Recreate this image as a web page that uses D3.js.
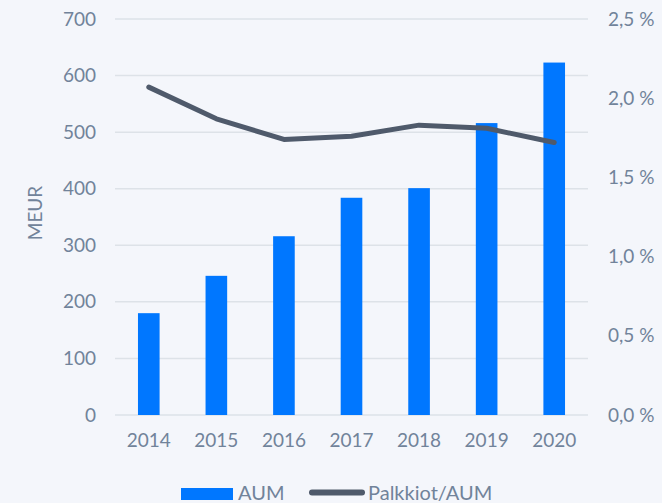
<!DOCTYPE html>
<html>
<head>
<meta charset="utf-8">
<script src="https://cdn.jsdelivr.net/npm/d3@7"></script>
<style>
  html, body { margin: 0; padding: 0; background: #f4f6fb; }
  svg { display: block; }
  text { font-family: Lato, "Open Sans", sans-serif; font-weight: 400; fill: #71839a; }
</style>
</head>
<body>
<svg id="chart" width="662" height="503"></svg>
<script>
// Assets under management (MEUR) and fee ratio (%) by year
const years = ["2014", "2015", "2016", "2017", "2018", "2019", "2020"];
const aum = [180, 246, 316, 384, 401, 516, 623];
const feeRatio = [2.07, 1.87, 1.74, 1.76, 1.83, 1.81, 1.72];
const leftTicks = [0, 100, 200, 300, 400, 500, 600, 700];
const rightTicks = [0, 0.5, 1.0, 1.5, 2.0, 2.5];
const legendLabels = ["AUM", "Palkkiot/AUM"];

const svg = d3.select("#chart");
const plotLeft = 115, plotRight = 588, plotTop = 19, plotBottom = 415;

const x = d3.scaleBand().domain(years).range([plotLeft, plotRight])
  .paddingInner(0.68).paddingOuter(0.34);
const yL = d3.scaleLinear().domain([0, 700]).range([plotBottom, plotTop]);
const yR = d3.scaleLinear().domain([0, 2.5]).range([plotBottom, plotTop]);

const barColor = "#0077ff";
const lineColor = "#4f5a6b";

// Horizontal gridlines
svg.append("g").selectAll("line").data(leftTicks).join("line")
  .attr("x1", plotLeft).attr("x2", plotRight)
  .attr("y1", d => yL(d)).attr("y2", d => yL(d))
  .attr("stroke", "#dde2e8").attr("stroke-width", 1.5);

// Left axis labels
const axL = svg.append("g").attr("transform", `translate(${plotLeft - 19},0)`)
  .call(d3.axisLeft(yL).tickValues(leftTicks).tickSize(0).tickPadding(0));
axL.select(".domain").remove();
axL.selectAll("text").style("font-size", "19px").attr("fill", null);

// Right axis labels
const fmtPct = d => d3.format(".1f")(d).replace(".", ",") + " %";
const axR = svg.append("g").attr("transform", `translate(${plotRight + 20},0)`)
  .call(d3.axisRight(yR).tickValues(rightTicks).tickFormat(fmtPct).tickSize(0).tickPadding(0));
axR.select(".domain").remove();
axR.selectAll("text").style("font-size", "19px").attr("fill", null);

// Bottom axis labels
const axB = svg.append("g").attr("transform", `translate(0,${plotBottom + 18})`)
  .call(d3.axisBottom(x).tickSize(0).tickPadding(0));
axB.select(".domain").remove();
axB.selectAll("text").style("font-size", "19px").attr("fill", null).attr("dy", "0.71em");

// Left axis title
svg.append("text")
  .attr("transform", `translate(42,213) rotate(-90)`)
  .attr("text-anchor", "middle")
  .style("font-size", "19px")
  .text("MEUR");

// Bars
svg.append("g").selectAll("rect").data(years).join("rect")
  .attr("x", d => x(d))
  .attr("width", x.bandwidth())
  .attr("y", (d, i) => yL(aum[i]))
  .attr("height", (d, i) => plotBottom - yL(aum[i]))
  .attr("fill", barColor);

// Fee ratio line
const line = d3.line()
  .x((d, i) => x(years[i]) + x.bandwidth() / 2)
  .y(d => yR(d));
svg.append("path").datum(feeRatio)
  .attr("d", line)
  .attr("fill", "none")
  .attr("stroke", lineColor)
  .attr("stroke-width", 5)
  .attr("stroke-linecap", "round")
  .attr("stroke-linejoin", "round");

// Legend
const lg = svg.append("g");
lg.append("rect").attr("x", 181).attr("y", 488).attr("width", 52).attr("height", 12).attr("fill", barColor);
lg.append("text").attr("x", 238).attr("y", 500).style("font-size", "20px").text(legendLabels[0]);
lg.append("line").attr("x1", 312).attr("x2", 362).attr("y1", 492.5).attr("y2", 492.5)
  .attr("stroke", lineColor).attr("stroke-width", 6).attr("stroke-linecap", "round");
lg.append("text").attr("x", 368).attr("y", 500).style("font-size", "20px").text(legendLabels[1]);
</script>
</body>
</html>
